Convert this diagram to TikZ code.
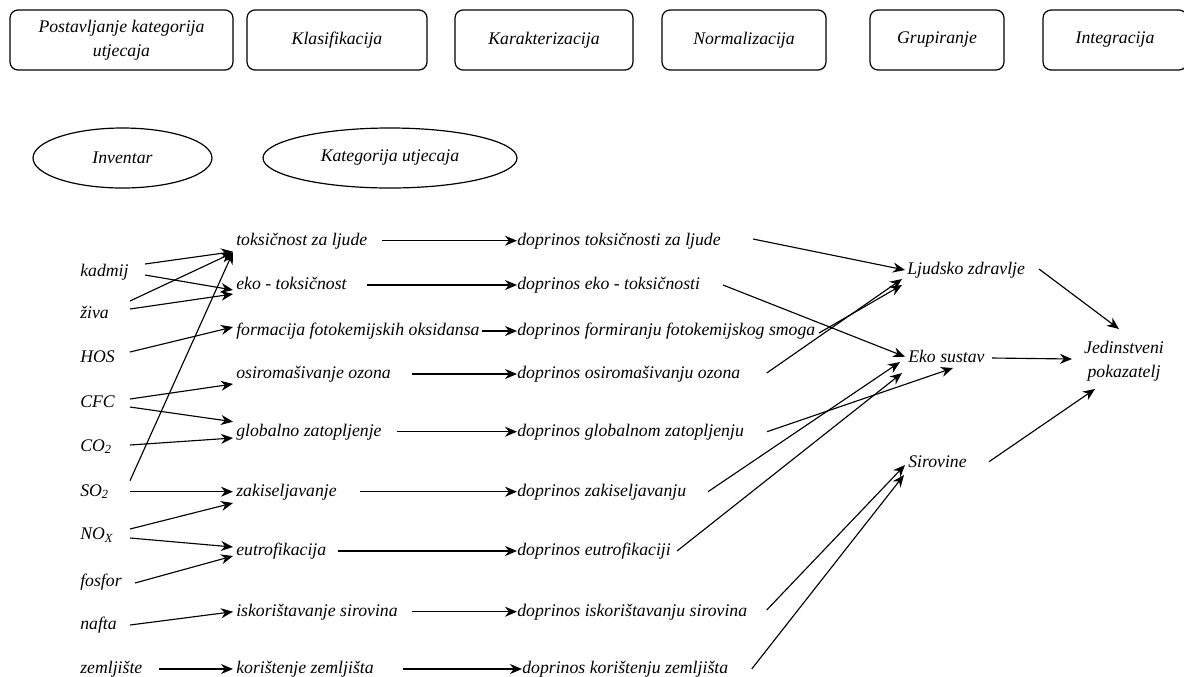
\documentclass[tikz,border=0pt]{standalone}
\usepackage{fontspec}
\setmainfont{Liberation Serif}
\usetikzlibrary{arrows.meta,shapes.geometric}
\tikzset{
  txt/.style={font=\fontsize{13.3pt}{18pt}\selectfont\itshape},
  lbl/.style={txt, anchor=west, inner sep=0pt, text height=9.5pt, text depth=3pt},
  topbox/.style={txt, draw, rounded corners=6pt, line width=0.9pt, minimum height=45pt, align=center, inner sep=0pt},
  oval/.style={txt, draw, ellipse, line width=0.9pt, inner sep=0pt, minimum height=45pt},
  arr/.style={-{Stealth[length=9pt,width=7.5pt]}, line width=0.85pt},
}
\begin{document}
\begin{tikzpicture}[x=0.75pt,y=-0.75pt]
\useasboundingbox (0,0) rectangle (1184,676);
\clip (0,0) rectangle (1184,676);
% top boxes
\node[topbox, minimum width=223*0.75pt] (b1) at (121.5,40) {Postavljanje kategorija\\utjecaja};
\node[topbox, minimum width=180*0.75pt] (b2) at (337,40) {Klasifikacija};
\node[topbox, minimum width=178*0.75pt] (b3) at (544,40) {Karakterizacija};
\node[topbox, minimum width=164*0.75pt] (b4) at (744,40) {Normalizacija};
\node[topbox, minimum width=134*0.75pt] (b5) at (937,40) {Grupiranje};
\node[topbox, minimum width=144*0.75pt] (b6) at (1115,40) {Integracija};
% ellipses
\node[oval, minimum width=179*0.75pt] (inv) at (122.5,158) {Inventar};
\node[oval, minimum width=254*0.75pt] (kat) at (390,158) {Kategorija utjecaja};
% column 1
\node[lbl] (kadmij) at (80,271.7) {kadmij};
\node[lbl] (ziva) at (80,314) {živa};
\node[lbl] (hos) at (80,358) {HOS};
\node[lbl] (cfc) at (80,402.7) {CFC};
\node[lbl] (co2) at (80,446.7) {CO\textsubscript{2}};
\node[lbl] (so2) at (80,491.7) {SO\textsubscript{2}};
\node[lbl] (nox) at (80,535) {NO\textsubscript{X}};
\node[lbl] (fosfor) at (80,581.7) {fosfor};
\node[lbl] (nafta) at (80,625) {nafta};
\node[lbl] (zem) at (80,669) {zemljište};
% column 2
\node[lbl] (tox) at (236,240.7) {toksičnost za ljude};
\node[lbl] (ekot) at (236,285) {eko - toksičnost};
\node[lbl] (form) at (236,331) {formacija fotokemijskih oksidansa};
\node[lbl] (ozon) at (236,374) {osiromašivanje ozona};
\node[lbl] (glob) at (236,431.7) {globalno zatopljenje};
\node[lbl] (zak) at (236,491.7) {zakiseljavanje};
\node[lbl] (eut) at (236,551) {eutrofikacija};
\node[lbl] (isk) at (236,611.7) {iskorištavanje sirovina};
\node[lbl] (kor) at (236,669) {korištenje zemljišta};
% column 3
\node[lbl] (dtox) at (517,240.7) {doprinos toksičnosti za ljude};
\node[lbl] (deko) at (517,285) {doprinos eko - toksičnosti};
\node[lbl] (dform) at (517,331) {doprinos formiranju fotokemijskog smoga};
\node[lbl] (dozon) at (517,374) {doprinos osiromašivanju ozona};
\node[lbl] (dglob) at (517,431.7) {doprinos globalnom zatopljenju};
\node[lbl] (dzak) at (517,491.7) {doprinos zakiseljavanju};
\node[lbl] (deut) at (517,551) {doprinos eutrofikaciji};
\node[lbl] (disk) at (517,611.7) {doprinos iskorištavanju sirovina};
\node[lbl] (dkor) at (522,669) {doprinos korištenju zemljišta};
% column 4
\node[lbl] (ljud) at (907,270) {Ljudsko zdravlje};
\node[lbl] (eko) at (908,358) {Eko sustav};
\node[lbl] (sir) at (908,462.7) {Sirovine};
\node[txt, align=center, inner sep=0pt] (jed) at (1124,361) {Jedinstveni\\pokazatelj};
% column 1 -> column 2
\draw[arr] ([shift={(65,-7.7)}]kadmij.west) -- ([shift={(-3,11)}]tox.west);
\draw[arr] ([shift={(65,3.3)}]kadmij.west) -- ([shift={(-3,5)}]ekot.west);
\draw[arr] ([shift={(50,-13)}]ziva.west) -- ([shift={(-3,12)}]tox.west);
\draw[arr] ([shift={(50,-5)}]ziva.west) -- ([shift={(-3,9)}]ekot.west);
\draw[arr] ([shift={(50,-6)}]hos.west) -- ([shift={(-3,-4)}]form.west);
\draw[arr] ([shift={(50,-3.7)}]cfc.west) -- ([shift={(-3,10)}]ozon.west);
\draw[arr] ([shift={(50,4.3)}]cfc.west) -- ([shift={(-3,-10)}]glob.west);
\draw[arr] ([shift={(50,-1.7)}]co2.west) -- ([shift={(-3,6.3)}]glob.west);
\draw[arr] ([shift={(50,-11)}]so2.west) -- ([shift={(-3,11.5)}]tox.west);
\draw[arr] ([shift={(50,0)}]so2.west) -- ([shift={(-3,0)}]zak.west);
\draw[arr] ([shift={(50,-6)}]nox.west) -- ([shift={(-3,11.3)}]zak.west);
\draw[arr] ([shift={(50,3)}]nox.west) -- ([shift={(-3,-4)}]eut.west);
\draw[arr] ([shift={(55,1.3)}]fosfor.west) -- ([shift={(-3,5)}]eut.west);
\draw[arr] ([shift={(50,0)}]nafta.west) -- ([shift={(-3,0)}]isk.west);
\draw[arr] ([shift={(79,0)}]zem.west) -- ([shift={(-3,0)}]kor.west);
% column 2 -> column 3
\draw[arr] ([shift={(145.7,0)}]tox.west) -- (dtox.west);
\draw[arr] ([shift={(130.7,0)}]ekot.west) -- (deko.west);
\draw[arr] ([shift={(245.7,0)}]form.west) -- (dform.west);
\draw[arr] ([shift={(175.7,0)}]ozon.west) -- (dozon.west);
\draw[arr] ([shift={(160.7,0)}]glob.west) -- (dglob.west);
\draw[arr] ([shift={(124,0)}]zak.west) -- (dzak.west);
\draw[arr] ([shift={(102,0)}]eut.west) -- (deut.west);
\draw[arr] ([shift={(175.7,0)}]isk.west) -- (disk.west);
\draw[arr] ([shift={(167,0)}]kor.west) -- (dkor.west);
% column 3 -> column 4
\draw[arr] ([shift={(236,-1.7)}]dtox.west) -- ([shift={(-2,0)}]ljud.west);
\draw[arr] ([shift={(249.7,-1)}]dozon.west) -- ([shift={(-5,9)}]ljud.west);
\draw[arr] ([shift={(302,2)}]dform.west) -- ([shift={(-5,15)}]ljud.west);
\draw[arr] ([shift={(206,0)}]deko.west) -- ([shift={(-3,-1.3)}]eko.west);
\draw[arr] ([shift={(191,0)}]dzak.west) -- ([shift={(-8,4)}]eko.west);
\draw[arr] ([shift={(160,0)}]deut.west) -- ([shift={(-6,15)}]eko.west);
\draw[arr] ([shift={(250,0)}]dglob.west) -- ([shift={(45,10)}]eko.west);
\draw[arr] ([shift={(249.7,-1.7)}]disk.west) -- ([shift={(-3,2.3)}]sir.west);
\draw[arr] ([shift={(229.7,0)}]dkor.west) -- ([shift={(-4,12.3)}]sir.west);
% column 4 -> result
\draw[arr] ([shift={(132,-1)}]ljud.west) -- ([shift={(-5,-32)}]jed.center);
\draw[arr] ([shift={(84,0)}]eko.west) -- ([shift={(-52,-2)}]jed.center);
\draw[arr] ([shift={(81,-1)}]sir.west) -- ([shift={(-29,28)}]jed.center);
\end{tikzpicture}
\end{document}
